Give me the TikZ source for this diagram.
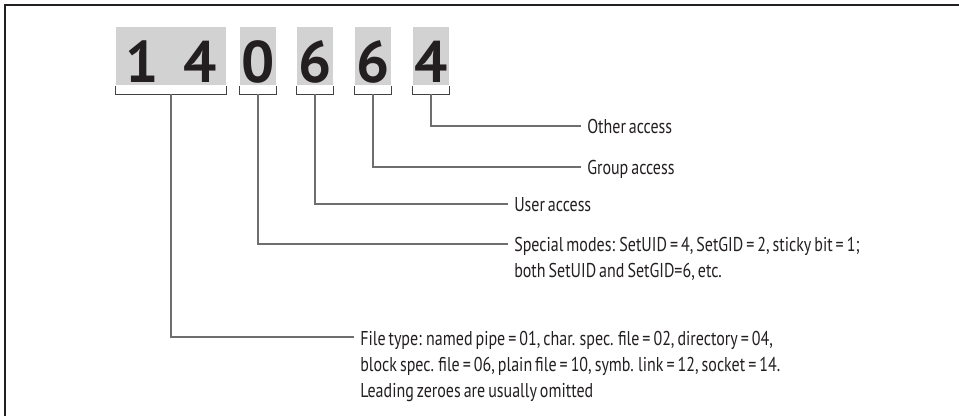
\documentclass[tikz,border=0pt]{standalone}
\usepackage{fontspec}
\setmainfont{PT Sans}[FakeStretch=0.8, WordSpace=0.7]
\newfontfamily\digitfont{PT Sans}
\usetikzlibrary{calc}
\definecolor{boxgray}{HTML}{D2D2D2}
\definecolor{linegray}{HTML}{6E6E6E}
\definecolor{ink}{HTML}{231F20}
\newcommand{\lbl}[1]{\begin{tabular}[t]{@{}l@{}}#1\end{tabular}}
\begin{document}
\begin{tikzpicture}[x=0.75pt,y=-0.75pt,
  dbox/.style={fill=boxgray, draw=none, inner sep=0pt, minimum height=43.5pt, minimum width=27pt},
  digit/.style={font=\digitfont\bfseries\fontsize{44}{44}\selectfont, text=ink, inner sep=0pt, anchor=base},
  lab/.style={anchor=base west, inner sep=0pt, text=ink, font=\fontsize{15}{19.5}\selectfont},
  bracket/.style={draw=ink!85, line width=0.9pt},
  conn/.style={draw=linegray, line width=0.8pt},
  frame/.style={draw=ink, line width=1.4pt}]
\useasboundingbox (0,0) rectangle (959,416);
\draw[frame] (5,420) -- (5,5) -- (965,5);
% boxes
\node[dbox, minimum width=82.5pt] (boxA) at (171,56) {};
\node[dbox] (boxB) at (258,56) {};
\node[dbox] (boxC) at (315,56) {};
\node[dbox] (boxD) at (373,56) {};
\node[dbox] (boxE) at (431,56) {};
% digits
\node[digit] (dA1) at (142,83) {1};
\node[digit] (dA2) at (200,83) {4};
\node[digit] (dB) at (258,83) {0};
\node[digit] (dC) at (315,83) {6};
\node[digit] (dD) at (373,83) {6};
\node[digit] (dE) at (431,83) {4};
% brackets
\foreach \b in {A,B,C,D,E}{
  \draw[bracket] ($(box\b.south west)+(0,1)$) -- ($(box\b.south west)+(0,9)$)
     -- ($(box\b.south east)+(0,9)$) -- ($(box\b.south east)+(0,1)$);
  \coordinate (br\b) at ($(box\b.south)+(0,9)$);
}
% labels
\node[lab] (labE) at (587,134) {Other access};
\node[lab] (labD) at (587,175) {Group access};
\node[lab] (labC) at (514,212) {User access};
\node[lab] (labB) at (514,252) {\lbl{Special modes: SetUID = 4, SetGID = 2, sticky bit = 1;\\both SetUID and SetGID=6, etc.}};
\node[lab] (labA) at (360,345) {\lbl{File type: named pipe = 01, char. spec. file = 02, directory = 04,\\block spec. file = 06, plain file = 10, symb. link = 12, socket = 14.\\Leading zeroes are usually omitted}};
% connectors
\foreach \b in {A,B,C,D,E}{
  \draw[conn] (br\b) |- ($(lab\b.base west)+(-6,-8)$);
}
\end{tikzpicture}
\end{document}
